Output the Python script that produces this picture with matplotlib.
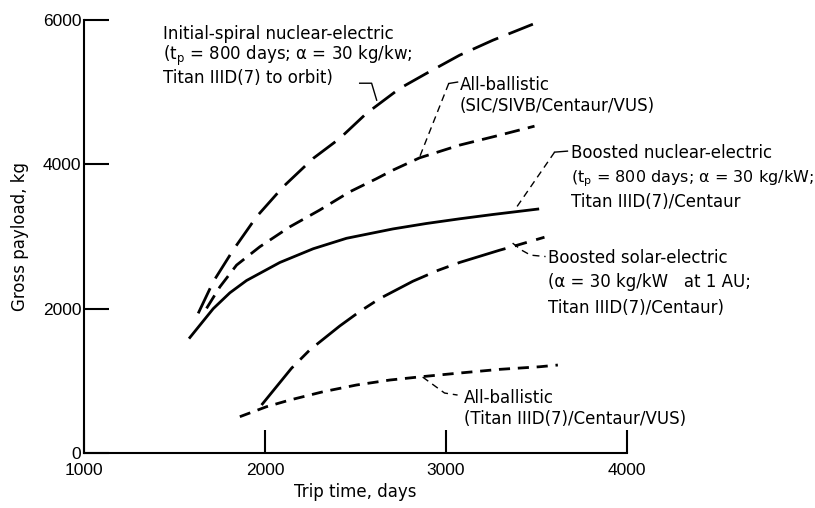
import matplotlib.pyplot as plt

# Gross payload (kg) against trip time (days) for each propulsion option
trip_spiral = [1631, 1714, 1824, 1953, 2100, 2266, 2413, 2560, 2744, 2891, 3075, 3259, 3480]
payload_spiral = [1935, 2373, 2812, 3273, 3688, 4082, 4359, 4705, 5051, 5259, 5512, 5720, 5942]

trip_sic = [1677, 1751, 1843, 1971, 2137, 2302, 2468, 2615, 2707, 2854, 3075, 3296, 3489]
payload_sic = [2004, 2303, 2604, 2857, 3134, 3366, 3619, 3800, 3920, 4090, 4266, 4404, 4529]

trip_nuc = [1585, 1714, 1806, 1898, 2082, 2266, 2450, 2707, 2891, 3075, 3259, 3507]
payload_nuc = [1600, 2000, 2220, 2390, 2640, 2830, 2975, 3105, 3180, 3245, 3305, 3380]

trip_sol = [1981, 2146, 2247, 2413, 2523, 2634, 2817, 2955, 3075, 3296, 3360, 3544]
payload_sol = [665, 1173, 1427, 1760, 1960, 2140, 2380, 2530, 2640, 2810, 2855, 2990]

trip_ball = [1861, 2008, 2137, 2321, 2505, 2689, 2864, 3057, 3296, 3517, 3618]
payload_ball = [503, 641, 734, 849, 942, 1011, 1057, 1104, 1159, 1195, 1219]

x_ticks = [1000, 2000, 3000, 4000]
y_ticks = [0, 2000, 4000, 6000]

fig = plt.figure(figsize=(8.15, 5.08), dpi=100)
ax = fig.add_axes([84 / 815, 1 - 453 / 508, 543 / 815, 433 / 508])

ax.plot(trip_spiral, payload_spiral, color='black', lw=2, ls=(0, (10, 4)), dash_capstyle='butt')
ax.plot(trip_sic, payload_sic, color='black', lw=2, ls=(0, (5.5, 3)), dash_capstyle='butt')
ax.plot(trip_nuc, payload_nuc, color='black', lw=2)
ax.plot(trip_sol, payload_sol, color='black', lw=2, ls=(0, (18, 3.5, 4.5, 3.5)), dash_capstyle='butt')
ax.plot(trip_ball, payload_ball, color='black', lw=2, ls=(0, (4, 2.8)), dash_capstyle='butt')

# leader lines from the notes to the curves
lead = dict(color='black', lw=1.0, clip_on=False)
ax.plot([2523, 2589, 2617], [5124, 5124, 4889], **lead)
ax.plot([3064, 3015], [5140, 5120], **lead)
ax.plot([3015, 2854], [5120, 4100], ls=(0, (5, 3.5)), **lead)
ax.plot([3671, 3600], [4183, 4169], **lead)
ax.plot([3600, 3379], [4169, 3366], ls=(0, (5, 3.5)), **lead)
ax.plot([3368, 3417, 3467, 3550], [2908, 2812, 2742, 2722], ls=(0, (5, 3.5)), **lead)
ax.plot([2871, 2992, 3064], [1052, 831, 803], ls=(0, (5, 3.5)), **lead)

note = dict(fontsize=12, ha='left', va='baseline', family='DejaVu Sans')
ax.text(1436, 5734, 'Initial-spiral nuclear-electric', **note)
ax.text(1436, 5443, r'(t$_\mathregular{p}$ = 800 days; α = 30 kg/kw;', **note)
ax.text(1436, 5131, 'Titan IIID(7) to orbit)', **note)

ax.text(3075, 5034, 'All-ballistic', **note)
ax.text(3075, 4737, '(SIC/SIVB/Centaur/VUS)', **note)

ax.text(3693, 4086, 'Boosted nuclear-electric', **note)
ax.text(3693, 3753, r'(t$_\mathregular{p}$ = 800 days; α = 30 kg/kW;',
        **{**note, 'fontsize': 11.5})
ax.text(3693, 3407, 'Titan IIID(7)/Centaur', **note)

ax.text(3561, 2632, 'Boosted solar-electric', **note)
ax.text(3561, 2299, '(α = 30 kg/kW   at 1 AU;', **note)
ax.text(3561, 1939, 'Titan IIID(7)/Centaur)', **note)

ax.text(3097, 692, 'All-ballistic', **note)
ax.text(3097, 402, '(Titan IIID(7)/Centaur/VUS)', **note)

ax.set_xlim(1000, 4000)
ax.set_ylim(0, 6000)
ax.set_xticks(x_ticks)
ax.set_yticks(y_ticks)
ax.spines['top'].set_visible(False)
ax.spines['right'].set_visible(False)
ax.spines['left'].set_linewidth(1.5)
ax.spines['bottom'].set_linewidth(1.5)
ax.tick_params(axis='y', direction='in', length=18, width=1.5, pad=2, labelsize=12.5)
ax.tick_params(axis='x', direction='in', length=16.5, width=1.5, pad=7, labelsize=12.5)
for lab in ax.get_xticklabels() + ax.get_yticklabels():
    lab.set_fontfamily(['Liberation Sans Narrow', 'Liberation Sans'])

ax.set_xlabel('Trip time, days', fontsize=12, family='DejaVu Sans', labelpad=4)
ax.set_ylabel('Gross payload, kg', fontsize=12, family='DejaVu Sans', labelpad=10)

fig.savefig('out.png', dpi=100)
